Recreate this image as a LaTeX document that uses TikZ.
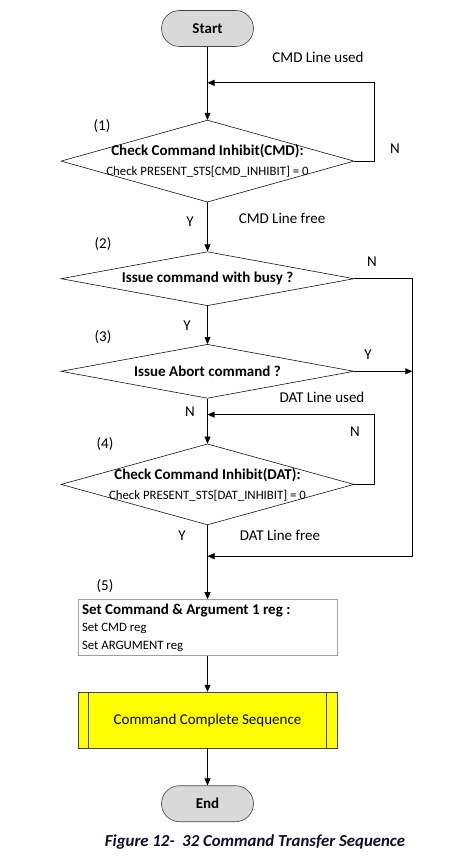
\documentclass[tikz,border=0pt]{standalone}
\usepackage{fontspec}
\setmainfont{Carlito}
\usetikzlibrary{arrows.meta,positioning,shapes.geometric,calc}
\definecolor{termgray}{RGB}{217,217,217}
\definecolor{procyellow}{RGB}{255,255,0}
\definecolor{boxedge}{RGB}{160,160,160}
\definecolor{lineblack}{RGB}{20,20,20}
\definecolor{capnavy}{RGB}{15,15,45}
\newcommand{\bigtext}{\fontsize{15}{18}\selectfont}
\newcommand{\smalltext}{\fontsize{12.8}{15}\selectfont}

\begin{document}
\begin{tikzpicture}[x=1pt, y=1pt,
  font=\bigtext,
  term/.style={rectangle, rounded corners=18pt, draw=lineblack!80, fill=termgray, minimum width=92pt, minimum height=36pt, font=\bigtext\bfseries, line width=0.6pt},
  dec/.style={diamond, draw=lineblack, minimum width=293pt, inner sep=0pt, line width=0.6pt},
  regbox/.style={rectangle, draw=boxedge, minimum width=259pt, minimum height=56pt, text width=251pt, inner xsep=4pt, align=flush left, line width=0.6pt},
  procbox/.style={rectangle, draw=lineblack!80, fill=procyellow, minimum width=259pt, minimum height=56pt, line width=0.6pt},
  lbl/.style={inner sep=0pt, text height=10pt, text depth=3pt},
  arr/.style={-{Triangle[length=7pt, width=6pt]}, line width=0.6pt}
]
\useasboundingbox (0,0) rectangle (454,-861);

\node[term] (st) at (207.5,-28.5) {Start};
\node[dec, minimum height=82pt, below=73pt of st, label={[align=center]center:{\bfseries Check Command Inhibit(CMD):}\\[2pt]{\smalltext Check PRESENT\_STS[CMD\_INHIBIT] = 0}}] (d1) {};
\node[dec, minimum height=54pt, below=49pt of d1, label={[font=\bigtext\bfseries]center:Issue command with busy ?}] (d2) {};
\node[dec, minimum height=54pt, below=38pt of d2, label={[font=\bigtext\bfseries]center:Issue Abort command ?}] (d3) {};
\node[dec, minimum height=81pt, below=45pt of d3, label={[align=center]center:{\bfseries Check Command Inhibit(DAT):}\\[2pt]{\smalltext Check PRESENT\_STS[DAT\_INHIBIT] = 0}}] (d4) {};
\node[regbox, below=74pt of d4] (b5) {{\bfseries Set Command \& Argument 1 reg :}\\{\fontsize{12.8}{17}\selectfont Set CMD reg\\Set ARGUMENT reg}};
\node[procbox, below=36pt of b5] (cs) {Command Complete Sequence};
\node[term, below=37pt of cs] (en) {End};
\draw[lineblack!80, line width=0.6pt] ([xshift=11pt]cs.north west) -- ([xshift=11pt]cs.south west);
\draw[lineblack!80, line width=0.6pt] ([xshift=-11pt]cs.north east) -- ([xshift=-11pt]cs.south east);

% junctions of the loops
\coordinate[below=36pt of st] (j1);
\coordinate (c1) at ($(d1.east)+(20,0)$);
\coordinate (b2) at ($(d2.east)+(58,0)$);
\coordinate (b3) at (d3.east -| b2);
\coordinate[below=16pt of d3] (j4);
\coordinate (c4) at ($(d4.east)+(20,0)$);
\coordinate[below=31pt of d4] (j5);

\draw[arr] (st) -- (d1);
\draw[arr] (d1) -- (d2);
\draw[arr] (d2) -- (d3);
\draw[arr] (d3) -- (d4);
\draw[arr] (d4) -- (b5);
\draw[arr] (b5) -- (cs);
\draw[arr] (cs) -- (en);
\draw[arr] (d1.east) -- (c1) |- (j1);
\draw[arr] (d4.east) -- (c4) |- (j4);
\draw[arr] (d2.east) -- (b2) |- (j5);
\draw[arr] (d3.east) -- (b3);

% labels
\node[lbl] (l1) at (318,-59) {CMD Line used};
\node[lbl] (n1) at (395,-150) {N};
\node[lbl] (s1) at (102,-127) {(1)};
\node[lbl] (y1) at (190,-223) {Y};
\node[lbl] (l2) at (282,-220) {CMD Line free};
\node[lbl] (s2) at (103,-245) {(2)};
\node[lbl] (n2) at (372,-263) {N};
\node[lbl] (y2) at (187,-327) {Y};
\node[lbl] (s3) at (103,-338) {(3)};
\node[lbl] (y3) at (368,-356) {Y};
\node[lbl] (l3) at (322,-399) {DAT Line used};
\node[lbl] (n3) at (190,-413) {N};
\node[lbl] (n4) at (355,-433) {N};
\node[lbl] (s4) at (105,-445) {(4)};
\node[lbl] (y4) at (182,-537) {Y};
\node[lbl] (l4) at (280,-537) {DAT Line free};
\node[lbl] (s5) at (105,-587) {(5)};

\node[font=\fontsize{16.8}{20}\selectfont\bfseries\itshape, text=capnavy] (cap) at (255,-842) {Figure 12-~~32 Command Transfer Sequence};
\end{tikzpicture}
\end{document}
